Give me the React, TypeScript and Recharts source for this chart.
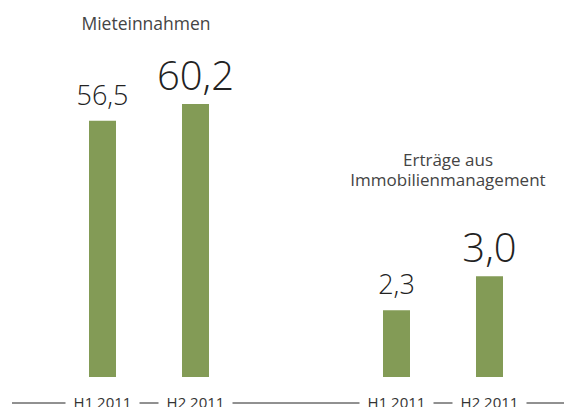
import React from "react";
import { BarChart, Bar, XAxis, YAxis, LabelList } from "recharts";

const periods = ["H1 2011", "H2 2011"];
const rentValues = [56.5, 60.2];
const mgmtValues = [2.3, 3.0];
const rentTitle = ["Mieteinnahmen"];
const mgmtTitle = ["Erträge aus", "Immobilienmanagement"];

const rentData = periods.map((p, i) => ({ period: p, value: rentValues[i] }));
const mgmtData = periods.map((p, i) => ({ period: p, value: mgmtValues[i] }));

const FONT = "'Open Sans', 'Noto Sans', sans-serif";
const BAR_COLOR = "#839b56";

const fmt = (v: number) => v.toFixed(1).replace(".", ",");

const ValueLabel = (props: any) => {
  const { x, y, width, value, index } = props;
  const big = index === 1;
  return (
    <text
      x={Number(x) + Number(width) / 2}
      y={Number(y) - (big ? 14 : 16)}
      textAnchor="middle"
      fontFamily={FONT}
      fontWeight={300}
      fontSize={big ? 40 : 27}
      fill="#222"
    >
      {fmt(Number(value))}
    </text>
  );
};

const PeriodTick = (props: any) => {
  const { x, y, payload } = props;
  const w = 74;
  return (
    <g>
      <rect x={x - w / 2} y={y - 10} width={w} height={20} fill="#fff" />
      <text
        x={x}
        y={y + 5}
        textAnchor="middle"
        fontFamily={FONT}
        fontSize={15}
        fill="#333"
      >
        {payload.value}
      </text>
    </g>
  );
};

function Panel({
  data,
  width,
  marginLeft,
  padding,
  domain,
}: {
  data: { period: string; value: number }[];
  width: number;
  marginLeft: number;
  padding: { left: number; right: number };
  domain: [number, number];
}) {
  return (
    <BarChart
      width={width}
      height={407}
      data={data}
      margin={{ top: 0, right: 0, bottom: 0, left: marginLeft }}
    >
      <XAxis
        xAxisId="b"
        dataKey="period"
        height={4}
        axisLine={{ stroke: "#222", strokeWidth: 1 }}
        tickLine={false}
        tickSize={0}
        tickMargin={0}
        tick={<PeriodTick />}
        interval={0}
        padding={padding}
      />
      <XAxis
        xAxisId="a"
        dataKey="period"
        height={26}
        axisLine={false}
        tickLine={false}
        tick={false}
        padding={padding}
      />
      <YAxis hide domain={domain} allowDataOverflow type="number" />
      <Bar
        xAxisId="b"
        dataKey="value"
        fill={BAR_COLOR}
        barSize={27}
        isAnimationActive={false}
      >
        <LabelList dataKey="value" content={<ValueLabel />} />
      </Bar>
    </BarChart>
  );
}

export default function App() {
  return (
    <div
      style={{
        position: "absolute",
        left: 0,
        top: 0,
        width: 564,
        height: 407,
        background: "#fff",
        overflow: "hidden",
      }}
    >
      <div style={{ display: "flex" }}>
        <Panel
          data={rentData}
          width={282}
          marginLeft={12}
          padding={{ left: 44, right: 40 }}
          domain={[0, 83.1]}
        />
        <Panel
          data={mgmtData}
          width={282}
          marginLeft={0}
          padding={{ left: 68, right: 28 }}
          domain={[0.927, 8.69]}
        />
      </div>
      <svg
        width={564}
        height={407}
        style={{ position: "absolute", left: 0, top: 0, pointerEvents: "none" }}
      >
        {rentTitle.map((t, i) => (
          <text
            key={t}
            x={146}
            y={30 + i * 20}
            textAnchor="middle"
            fontFamily={FONT}
            fontSize={17.5}
            fill="#444"
          >
            {t}
          </text>
        ))}
        {mgmtTitle.map((t, i) => (
          <text
            key={t}
            x={448}
            y={166 + i * 20}
            textAnchor="middle"
            fontFamily={FONT}
            fontSize={17}
            fill="#444"
          >
            {t}
          </text>
        ))}
      </svg>
    </div>
  );
}
